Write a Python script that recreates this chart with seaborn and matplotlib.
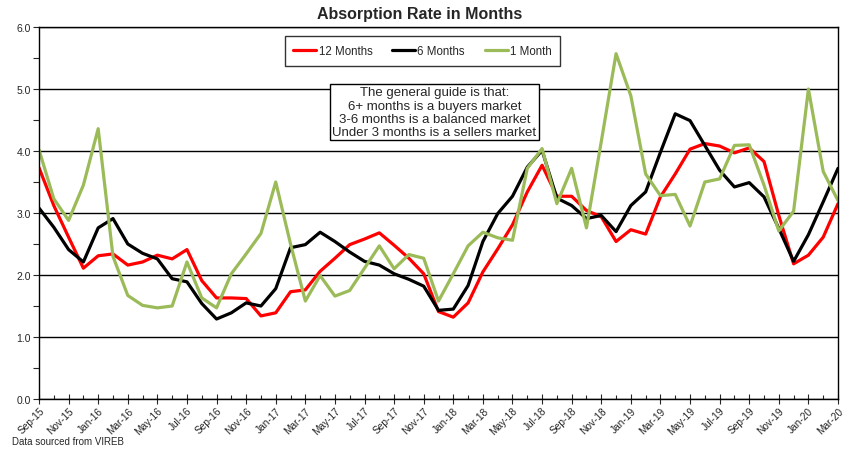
import numpy as np
import pandas as pd
import matplotlib
matplotlib.use("Agg")
import matplotlib.pyplot as plt
import seaborn as sns
from matplotlib.ticker import MultipleLocator

# 月份 Sep-15 .. Mar-20
months = pd.date_range("2015-09-01", periods=55, freq="MS").strftime("%b-%y").tolist()

twelve_months = [3.73, 3.12, 2.61, 2.11, 2.31, 2.34, 2.16, 2.21, 2.32, 2.26,
                 2.41, 1.91, 1.63, 1.63, 1.62, 1.34, 1.39, 1.73, 1.76, 2.06,
                 2.27, 2.49, 2.58, 2.68, 2.48, 2.27, 2.02, 1.41, 1.32, 1.55,
                 2.05, 2.42, 2.81, 3.34, 3.77, 3.27, 3.27, 3.04, 2.94, 2.54,
                 2.73, 2.66, 3.26, 3.63, 4.03, 4.12, 4.08, 3.97, 4.05, 3.83,
                 2.96, 2.18, 2.32, 2.61, 3.15]
six_months = [3.08, 2.77, 2.41, 2.21, 2.76, 2.91, 2.50, 2.35, 2.26, 1.94,
              1.89, 1.54, 1.29, 1.39, 1.55, 1.50, 1.78, 2.44, 2.49, 2.69,
              2.54, 2.37, 2.22, 2.16, 2.02, 1.93, 1.82, 1.43, 1.45, 1.83,
              2.54, 2.99, 3.27, 3.74, 4.01, 3.24, 3.12, 2.91, 2.96, 2.70,
              3.12, 3.34, 3.98, 4.60, 4.49, 4.09, 3.69, 3.42, 3.49, 3.26,
              2.75, 2.22, 2.65, 3.18, 3.72]
one_month = [4.02, 3.23, 2.88, 3.45, 4.36, 2.30, 1.67, 1.51, 1.47, 1.50,
             2.21, 1.63, 1.47, 2.02, 2.34, 2.67, 3.50, 2.50, 1.58, 1.99,
             1.66, 1.75, 2.11, 2.47, 2.10, 2.33, 2.27, 1.58, 2.02, 2.47,
             2.69, 2.60, 2.56, 3.72, 4.04, 3.15, 3.72, 2.76, 4.15, 5.57,
             4.89, 3.63, 3.28, 3.30, 2.79, 3.50, 3.55, 4.09, 4.10, 3.45,
             2.71, 3.03, 5.00, 3.67, 3.20]

series_names = ["12 Months", "6 Months", "1 Month"]
colors = ["#FF0000", "#000000", "#9BBB59"]

idx = np.arange(len(months))
df = pd.DataFrame({"12 Months": twelve_months, "6 Months": six_months,
                   "1 Month": one_month}, index=idx)
df = df.reset_index().melt(id_vars="index", var_name="Series", value_name="Rate")

sns.set_style("ticks")
plt.rcParams["font.family"] = ["Liberation Sans", "DejaVu Sans"]

fig = plt.figure(figsize=(8.48, 4.52), dpi=100)
ax = fig.add_axes([39 / 848, 1 - 400 / 452, 799 / 848, 372 / 452])

sns.lineplot(data=df, x="index", y="Rate", hue="Series", hue_order=series_names,
             palette=colors, linewidth=2.3, ax=ax)

ax.set_xlim(0, len(months) - 1)
ax.set_ylim(0, 6)
ax.set_xlabel("")
ax.set_ylabel("")

# y轴
ax.yaxis.set_major_locator(MultipleLocator(1))
ax.yaxis.set_minor_locator(MultipleLocator(0.5))
ax.set_yticklabels([f"{v:.1f}" for v in ax.get_yticks()], fontsize=7.5)
ax.yaxis.grid(True, which="major", color="black", linewidth=1)
ax.set_axisbelow(True)
ax.tick_params(axis="y", which="both", direction="out", length=4, width=0.8, pad=2)

# x轴
ax.set_xticks(idx[::2])
ax.set_xticks(idx, minor=True)
ax.set_xticklabels(months[::2], rotation=45, ha="right", rotation_mode="anchor", fontsize=7.3)
ax.tick_params(axis="x", which="major", direction="inout", length=7, width=0.8, pad=1)
ax.tick_params(axis="x", which="minor", direction="in", length=3, width=0.8)

for s in ax.spines.values():
    s.set_color("black")
    s.set_linewidth(1)

leg = ax.legend(loc="upper center", bbox_to_anchor=(0.48, 0.99), ncol=3,
                fontsize=8.3, frameon=True, fancybox=False, edgecolor="black",
                handlelength=2.0, handletextpad=0.2, columnspacing=1.7, borderpad=0.75)
leg.get_frame().set_linewidth(1)
for line in leg.get_lines():
    line.set_linewidth(2.3)

ax.text(0.495, 0.771,
        "The general guide is that:\n6+ months is a buyers market\n"
        "3-6 months is a balanced market\nUnder 3 months is a sellers market",
        transform=ax.transAxes, ha="center", va="center", fontsize=9.5,
        linespacing=1.15,
        bbox=dict(boxstyle="square,pad=0.15", facecolor="white", edgecolor="black", linewidth=1))

fig.text(0.495, 1 - 14 / 452, "Absorption Rate in Months", ha="center", va="center",
         fontsize=11.5, fontweight="bold")
fig.text(12 / 848, 1 - 442 / 452, "Data sourced from VIREB", ha="left", va="center", fontsize=7)

fig.savefig("out.png", dpi=100)
